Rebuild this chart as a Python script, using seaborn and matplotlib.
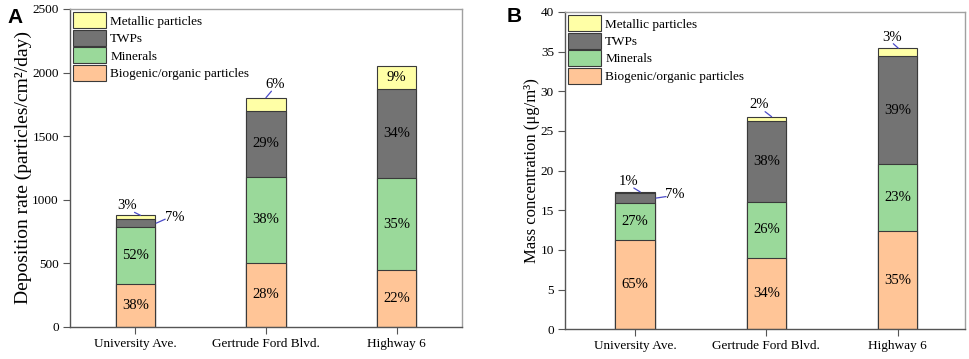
import numpy as np
import seaborn as sns
import matplotlib.pyplot as plt
from matplotlib.patches import Patch

# categories / layers
sites = ["University Ave.", "Gertrude Ford Blvd.", "Highway 6"]
layers = ["Biogenic/organic particles", "Minerals", "TWPs", "Metallic particles"]

# A: deposition rate (particles/cm2/day)
dep_bio = [333, 503, 444]
dep_min = [451, 677, 726]
dep_twp = [61, 517, 698]
dep_met = [31, 105, 181]
dep_pct_bio = [38, 28, 22]
dep_pct_min = [52, 38, 35]
dep_pct_twp = [7, 29, 34]
dep_pct_met = [3, 6, 9]

# B: mass concentration (ug/m3)
mass_bio = [11.22, 9.03, 12.43]
mass_min = [4.71, 7.02, 8.37]
mass_twp = [1.22, 10.22, 13.66]
mass_met = [0.16, 0.53, 0.97]
mass_pct_bio = [65, 34, 35]
mass_pct_min = [27, 26, 23]
mass_pct_twp = [7, 38, 39]
mass_pct_met = [1, 2, 3]

colors = ['#FFC597', '#9AD99A', '#737373', '#FFFFA6']
edge = '#3a3a3a'
lead = '#4B4BC8'

sns.set_style('ticks')
plt.rcParams['font.family'] = ['Liberation Serif', 'DejaVu Serif']
plt.rcParams['text.color'] = 'black'
plt.rcParams['axes.labelcolor'] = 'black'
plt.rcParams['xtick.color'] = 'black'
plt.rcParams['ytick.color'] = 'black'

fig = plt.figure(figsize=(9.69, 3.59), dpi=100)
axA = fig.add_axes([0.0722, 0.090, 0.4045, 0.885])
axB = fig.add_axes([0.5831, 0.0827, 0.4128, 0.884])


def stacked(ax, vals, pcts, outside, ylim, yticks, ylabel, ylabel_size, xlim):
    vals = np.array(vals, dtype=float)
    cum = np.cumsum(vals, axis=0)
    # draw tallest first so lower layers sit on top
    for k in range(len(layers) - 1, -1, -1):
        sns.barplot(x=sites, y=cum[k], color=colors[k], width=0.3,
                    edgecolor=edge, linewidth=0.8, saturation=1,
                    errorbar=None, ax=ax)
    for k in range(len(layers)):
        for i in range(len(sites)):
            bottom = cum[k][i] - vals[k][i]
            mid = bottom + vals[k][i] / 2
            txt = f"{pcts[k][i]}%"
            if (i, k) in outside:
                adx, where, line_off, text_off = outside[(i, k)]
                ay = cum[k][i] if where == 'top' else mid
                ax.annotate('', xy=(i + adx, ay), xytext=line_off,
                            textcoords='offset pixels',
                            arrowprops=dict(arrowstyle='-', color=lead, lw=0.9,
                                            shrinkA=0, shrinkB=0))
                ax.annotate(txt, xy=(i + adx, ay), xytext=text_off,
                            textcoords='offset pixels', ha='center', va='center',
                            fontsize=10.5)
            else:
                ax.text(i, mid, txt, ha='center', va='center', fontsize=10.5)
    ax.set_ylim(*ylim)
    ax.set_xlim(*xlim)
    ax.set_yticks(yticks)
    ax.set_ylabel(ylabel, fontsize=ylabel_size, labelpad=0.5)
    ax.set_xlabel('')
    ax.tick_params(axis='y', labelsize=9.5, length=5, width=0.8, color='#555555', pad=3)
    ax.tick_params(axis='x', labelsize=9.5, length=5, width=0.8, color='#555555', pad=3)
    for s in ['left', 'bottom']:
        ax.spines[s].set_color('#555555')
        ax.spines[s].set_linewidth(1.0)
    for s in ['top', 'right']:
        ax.spines[s].set_visible(True)
        ax.spines[s].set_color('#a0a0a0')
        ax.spines[s].set_linewidth(1.0)
    handles = [Patch(facecolor=colors[k], edgecolor=edge, linewidth=0.8, label=layers[k])
               for k in range(len(layers) - 1, -1, -1)]
    ax.legend(handles=handles, loc='upper left', frameon=False, fontsize=9.5,
              handlelength=2.5, handleheight=1.5, labelspacing=0.1,
              handletextpad=0.3, borderaxespad=0.15, borderpad=0.1)


stacked(axA,
        [dep_bio, dep_min, dep_twp, dep_met],
        [dep_pct_bio, dep_pct_min, dep_pct_twp, dep_pct_met],
        {(0, 3): (0.04, 'top', (-6, 3), (-13, 10)),
         (0, 2): (0.16, 'mid', (9, 4), (19, 6)),
         (1, 3): (0.0, 'top', (5.5, 6.5), (9, 13))},
        (0, 2500), np.arange(0, 2501, 500),
        'Deposition rate (particles/cm²/day)', 14, (-0.5, 2.5))

stacked(axB,
        [mass_bio, mass_min, mass_twp, mass_met],
        [mass_pct_bio, mass_pct_min, mass_pct_twp, mass_pct_met],
        {(0, 3): (0.04, 'top', (-6.5, 4), (-12, 10)),
         (0, 2): (0.16, 'mid', (10, 1.5), (19, 4)),
         (1, 3): (0.04, 'top', (-6.5, 5), (-12, 12)),
         (2, 3): (0.005, 'top', (-5, 4.5), (-6, 11))},
        (0, 40), np.arange(0, 41, 5),
        'Mass concentration (μg/m³)', 12, (-0.533, 2.513))

fig.text(0.016, 0.952, 'A', fontsize=15, fontweight='bold',
         family=['Liberation Sans', 'DejaVu Sans'], ha='center', va='center')
fig.text(0.531, 0.955, 'B', fontsize=15, fontweight='bold',
         family=['Liberation Sans', 'DejaVu Sans'], ha='center', va='center')

fig.savefig('out.png', dpi=100)
